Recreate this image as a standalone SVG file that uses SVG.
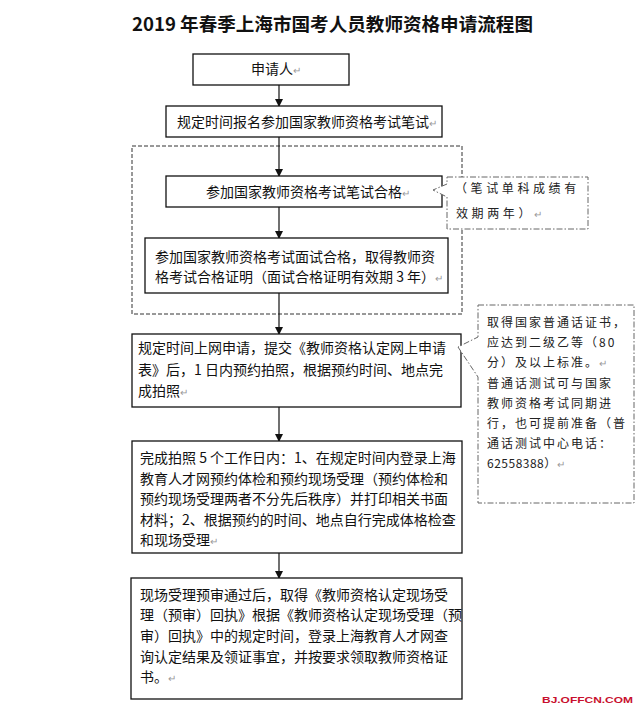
<svg xmlns="http://www.w3.org/2000/svg" width="638" height="709" viewBox="0 0 638 709">
<style>
  .box{fill:#fff;stroke:#111;stroke-width:1.3}
  .t{font-family:"Noto Sans CJK SC","Liberation Sans",sans-serif;font-size:14px;fill:#111}
  .ct{font-family:"Noto Sans CJK SC","Liberation Sans",sans-serif;font-size:12px;fill:#222;letter-spacing:2px}
  .pm{fill:#999;font-size:10px;letter-spacing:0}
  .edge{stroke:#111;stroke-width:1.2;fill:none}
  .call{fill:#fff;stroke:#666;stroke-width:1;stroke-dasharray:6 2 1.5 2}
</style>
<defs>
  <marker id="ah" markerWidth="8" markerHeight="8" refX="7" refY="4" orient="auto" markerUnits="userSpaceOnUse">
    <path d="M0,0 L8,4 L0,8 Z" fill="#111"/>
  </marker>
</defs>
<rect width="638" height="709" fill="#fff"/>

<text id="title" x="132" y="31" textLength="401" lengthAdjust="spacingAndGlyphs" style="font-family:'Noto Sans CJK SC','Liberation Sans',sans-serif;font-size:18.5px;font-weight:bold;fill:#111">2019 年春季上海市国考人员教师资格申请流程图</text>

<g id="group-written">
  <rect x="132" y="146" width="330" height="168" fill="none" stroke="#333" stroke-width="1" stroke-dasharray="4 2"/>
</g>

<g id="connectors">
  <line class="edge" x1="279" y1="85" x2="279" y2="106" marker-end="url(#ah)"/>
  <line class="edge" x1="279" y1="137" x2="279" y2="176" marker-end="url(#ah)"/>
  <line class="edge" x1="279" y1="207" x2="279" y2="238" marker-end="url(#ah)"/>
  <line class="edge" x1="279" y1="293" x2="279" y2="334" marker-end="url(#ah)"/>
  <line class="edge" x1="279" y1="407" x2="279" y2="441" marker-end="url(#ah)"/>
  <line class="edge" x1="279" y1="553" x2="279" y2="578" marker-end="url(#ah)"/>
</g>

<g id="n1">
  <rect class="box" x="193" y="54" width="156" height="31"/>
  <text class="t" x="251" y="74">申请人<tspan class="pm">↵</tspan></text>
</g>

<g id="n2">
  <rect class="box" x="166" y="106" width="276" height="31"/>
  <text class="t" x="177" y="127">规定时间报名参加国家教师资格考试笔试<tspan class="pm">↵</tspan></text>
</g>

<g id="n3">
  <rect class="box" x="166" y="176" width="276" height="31"/>
  <text class="t" x="206" y="197">参加国家教师资格考试笔试合格<tspan class="pm">↵</tspan></text>
</g>

<g id="n4">
  <rect class="box" x="145" y="238" width="303" height="55"/>
  <text class="t" x="155" y="262">参加国家教师资格考试面试合格，取得教师资</text>
  <text class="t" x="155" y="282">格考试合格证明（面试合格证明有效期 3 年）<tspan class="pm">↵</tspan></text>
</g>

<g id="n5">
  <rect class="box" x="132" y="334" width="329" height="73"/>
  <text class="t" x="138" y="353">规定时间上网申请，提交《教师资格认定网上申请</text>
  <text class="t" x="138" y="375">表》后，1 日内预约拍照，根据预约时间、地点完</text>
  <text class="t" x="138" y="396">成拍照<tspan class="pm">↵</tspan></text>
</g>

<g id="n6">
  <rect class="box" x="132" y="441" width="330" height="112"/>
  <text class="t" x="140" y="463">完成拍照 5 个工作日内：1、在规定时间内登录上海</text>
  <text class="t" x="140" y="484">教育人才网预约体检和预约现场受理（预约体检和</text>
  <text class="t" x="140" y="504">预约现场受理两者不分先后秩序）并打印相关书面</text>
  <text class="t" x="140" y="525">材料；2、根据预约的时间、地点自行完成体格检查</text>
  <text class="t" x="140" y="545">和现场受理<tspan class="pm">↵</tspan></text>
</g>

<g id="n7">
  <rect class="box" x="131" y="578" width="331" height="121"/>
  <text class="t" x="140" y="600">现场受理预审通过后，取得《教师资格认定现场受</text>
  <text class="t" x="140" y="620">理（预审）回执》根据《教师资格认定现场受理（预</text>
  <text class="t" x="140" y="641">审）回执》中的规定时间，登录上海教育人才网查</text>
  <text class="t" x="140" y="662">询认定结果及领证事宜，并按要求领取教师资格证</text>
  <text class="t" x="140" y="682">书。<tspan class="pm">↵</tspan></text>
</g>

<g id="callout1">
  <path class="call" d="M447,177 H588 V229 H447 V197 L433,190 L447,184 Z"/>
  <text class="ct" x="455" y="193" style="letter-spacing:3.6px">（笔试单科成绩有</text>
  <text class="ct" x="456" y="218" style="letter-spacing:3.6px">效期两年）<tspan class="pm">↵</tspan></text>
</g>

<g id="callout2">
  <path class="call" d="M478,305 H634 V503 H478 V377 L458,347 L478,337 Z"/>
  <text class="ct" x="487" y="327">取得国家普通话证书，</text>
  <text class="ct" x="487" y="347">应达到二级乙等（80</text>
  <text class="ct" x="487" y="367">分）及以上标准。<tspan class="pm">↵</tspan></text>
  <text class="ct" x="487" y="388">普通话测试可与国家</text>
  <text class="ct" x="487" y="408">教师资格考试同期进</text>
  <text class="ct" x="487" y="428">行，也可提前准备（普</text>
  <text class="ct" x="487" y="448">通话测试中心电话：</text>
  <text class="ct" x="487" y="468" style="letter-spacing:0.5px">62558388）<tspan class="pm">↵</tspan></text>
</g>

<text id="watermark" x="542" y="703" textLength="91" lengthAdjust="spacingAndGlyphs" style="font-family:'Liberation Sans',sans-serif;font-size:9.5px;font-weight:bold;fill:#c8102e">BJ.OFFCN.COM</text>
</svg>
